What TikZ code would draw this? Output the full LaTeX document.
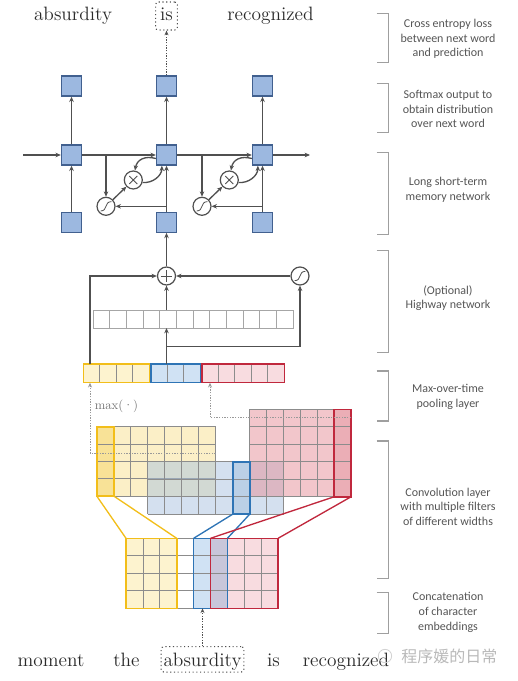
\documentclass[tikz,border=0pt]{standalone}
\usepackage{fontspec}
\newfontfamily\lab{Carlito}
\newfontfamily\cjk{Noto Sans CJK SC}
\usetikzlibrary{arrows.meta,calc}
\definecolor{sqfill}{HTML}{9CB8E0}
\definecolor{sqdraw}{HTML}{41608F}
\definecolor{ln}{HTML}{505050}
\definecolor{wtxt}{HTML}{2A2A2A}
\definecolor{ltxt}{HTML}{555555}
\definecolor{grd}{HTML}{8C8C8C}
\definecolor{ylw}{HTML}{F2BE1A}
\definecolor{ylwf}{HTML}{F7E08F}
\definecolor{ylwl}{HTML}{FDF3CF}
\definecolor{blu}{HTML}{2E74B5}
\definecolor{bluf}{HTML}{A9C2DF}
\definecolor{blul}{HTML}{D0E2F4}
\definecolor{rd}{HTML}{C0283D}
\definecolor{rdf}{HTML}{E68E98}
\definecolor{rdl}{HTML}{F8DCE0}
\definecolor{mixc}{HTML}{C8C6DA}
\begin{document}
\begin{tikzpicture}[x=0.75pt,y=-0.75pt,
  sq/.style={draw=sqdraw, fill=sqfill, line width=1pt, minimum size=15pt, inner sep=0pt},
  op/.style={circle, draw=ln, fill=white, line width=0.9pt, minimum size=13.5pt, inner sep=0pt},
  sigop/.style={op, path picture={\draw[ln, line width=0.6pt, shift={(path picture bounding box.center)}, x=1pt, y=1pt] (-4,-3.5) .. controls (1.5,-3.5) and (-1.5,3.5) .. (4,3.5);}},
  mulop/.style={op, path picture={\draw[ln, line width=0.6pt, shift={(path picture bounding box.center)}, x=1pt, y=1pt] (-3,-3) -- (3,3) (-3,3) -- (3,-3);}},
  addop/.style={op, path picture={\draw[ln, line width=0.6pt, shift={(path picture bounding box.center)}, x=1pt, y=1pt] (-4.2,0) -- (4.2,0) (0,-4.2) -- (0,4.2);}},
  arr/.style={draw=ln, line width=1pt, -{Stealth[length=4pt,width=3.4pt]}},
  dotarr/.style={draw=ln, line width=0.8pt, dash pattern=on 0.9pt off 1.1pt, -{Stealth[length=3.6pt,width=3pt]}},
  maxarr/.style={draw=gray!80, line width=0.7pt, dash pattern=on 1pt off 1pt, -{Stealth[length=3.6pt,width=3pt]}},
  word/.style={font=\fontsize{14.5pt}{17pt}\selectfont, text=wtxt, anchor=base, inner sep=0pt},
  lbl/.style={font=\lab\fontsize{9pt}{11pt}\selectfont, text=ltxt, align=center},
  brk/.style={draw=gray!75, line width=0.8pt},
  gl/.style={draw=grd, line width=0.5pt},
  flt/.style={line width=1pt},
]
\useasboundingbox (0,0) rectangle (517,681);

% ---------- words ----------
\node[word] (wa) at (73,20.7) {absurdity};
\node[word, draw=ln, dotted, line width=0.8pt, rounded corners=2pt, inner xsep=3.4pt, inner ysep=1.5pt, text height=12.5pt, text depth=5.5pt] (wis) at (166.5,20.7) {is};
\node[word] (wr) at (270.5,20.7) {recognized};

\node[word] (bm) at (51,666.7) {moment};
\node[word] (bt) at (126.5,666.7) {the};
\node[word, draw=ln, dotted, line width=0.8pt, rounded corners=2pt, inner xsep=1.8pt, inner ysep=1pt, text height=14pt, text depth=3pt] (ba) at (202.5,666.7) {absurdity};
\node[word] (bi) at (273.5,666.7) {is};
\node[word] (br) at (346,666.7) {recognized};

% watermark
\node[circle, draw=gray!35, line width=0.6pt, minimum size=10pt, inner sep=0pt] (wmi) at (385,656) {};
\node[font=\cjk\fontsize{12pt}{14pt}\selectfont, text=gray!55, anchor=west, inner sep=0pt] (wm) at (401,656) {程序媛的日常};

% ---------- LSTM ----------
\foreach \n/\x in {1/71.5,2/166.5,3/262.5}{
  \node[sq] (t\n) at (\x,86) {};
  \node[sq] (m\n) at (\x,155) {};
  \node[sq] (b\n) at (\x,222.2) {};
}
\coordinate (hin) at (23,155);
\coordinate (hout) at (310,155);
\draw[arr] (hin) -- (m1);
\draw[arr] (m1) -- (m2);
\draw[arr] (m2) -- (m3);
\draw[arr] (m3) -- (hout);
\foreach \n in {1,2,3}{
  \draw[arr] (b\n) -- (m\n);
  \draw[arr] (m\n) -- (t\n);
}
\draw[dotarr] (t2) -- (wis);

% internals
\foreach \n/\dx in {2/0,3/96}{
  \node[sigop] (sg\n) at (106+\dx,206.3) {};
  \node[mulop] (ml\n) at (133.3+\dx,180) {};
  \coordinate (d\n) at (106+\dx,155);
  \coordinate (br\n) at (166.5+\dx,206.3);
  \draw[arr] (d\n) -- (sg\n);
  \draw[arr] (br\n) -- (sg\n);
  \draw[arr] (sg\n) -- (ml\n);
  \draw[arr] ($(m\n.west)+(0,3.5)$) .. controls ($(m\n.west)+(-11,0.5)$) and ($(ml\n.80)+(2,-11)$) .. (ml\n.80);
  \draw[arr] (ml\n.-15) .. controls ($(ml\n.-15)+(10,1)$) and ($(m\n.south west)+(6,10)$) .. ($(m\n.south west)+(6,0)$);
}

% ---------- highway ----------
\node[addop] (pl) at (166.5,276) {};
\node[sigop] (sgH) at (300,276) {};
\foreach \i in {0,...,11}{
  \draw[draw=gray!70, line width=0.5pt] (93+16.667*\i,310) rectangle (93+16.667*\i+16.667,328);
}
\coordinate (hwT) at (166.5,310);
\coordinate (hwB) at (166.5,328);
\draw[arr] (pl) -- (b2);
\draw[arr] (hwT) -- (pl);
\draw[arr] (sgH) -- (pl);

% ---------- concat vector ----------
\foreach \i in {0,...,3}{ \draw[gl, fill=ylwl] (83.3+16.5*\i,364) rectangle (83.3+16.5*\i+16.5,382.7); }
\foreach \i in {0,...,2}{ \draw[gl, fill=blul] (150.8+16.5*\i,364) rectangle (150.8+16.5*\i+16.5,382.7); }
\foreach \i in {0,...,4}{ \draw[gl, fill=rdl] (201.8+16.5*\i,364) rectangle (201.8+16.5*\i+16.5,382.7); }
\draw[ylw, line width=1.1pt] (83.3,364) rectangle (149.3,382.7);
\draw[blu, line width=1.1pt] (150.8,364) rectangle (200.3,382.7);
\draw[rd, line width=1.1pt] (201.8,364) rectangle (284.3,382.7);
\coordinate (cyT) at (90,364);
\coordinate (cyB) at (90,382.7);
\coordinate (cbT) at (166.5,364);
\coordinate (crB) at (210,382.7);
\coordinate (brH) at (166.5,346.7);
\draw[arr] (cyT) |- (pl);
\draw[arr] (cbT) -- (hwB);
\draw[arr] (brH) -| (sgH);

% ---------- feature maps ----------
% yellow
\fill[ylwf, fill opacity=0.5] (96.7,426.7) rectangle (215.7,496);
\fill[ylw, fill opacity=0.28] (96.7,426.7) rectangle (113.7,496);
\foreach \i in {0,...,7}{ \draw[gl] (96.7+17*\i,426.7) -- (96.7+17*\i,496); }
\foreach \j in {0,...,4}{ \draw[gl] (96.7,426.7+17.325*\j) -- (215.7,426.7+17.325*\j); }
% blue
\fill[bluf, fill opacity=0.5] (147.7,461.7) rectangle (283.7,514.2);
\fill[blu, fill opacity=0.15] (232.7,461.7) rectangle (249.7,514.2);
\foreach \i in {0,...,8}{ \draw[gl] (147.7+17*\i,461.7) -- (147.7+17*\i,514.2); }
\foreach \j in {0,...,3}{ \draw[gl] (147.7,461.7+17.5*\j) -- (283.7,461.7+17.5*\j); }
% red
\fill[rdf, fill opacity=0.5] (249,409.3) rectangle (351,496.8);
\fill[rd, fill opacity=0.15] (334,409.3) rectangle (351,496.8);
\foreach \i in {0,...,6}{ \draw[gl] (249+17*\i,409.3) -- (249+17*\i,496.8); }
\foreach \j in {0,...,5}{ \draw[gl] (249,409.3+17.5*\j) -- (351,409.3+17.5*\j); }
% highlighted filters
\draw[ylw, line width=1.2pt] (96.7,426.7) rectangle (113.7,496);
\draw[blu, line width=1.2pt] (232.7,461.7) rectangle (249.7,514.2);
\draw[rd, line width=1.2pt] (334,409.3) rectangle (351,496.8);

% max pooling arrows
\coordinate (ymR) at (215.7,453);
\coordinate (rmR) at (351,417.7);
\draw[maxarr] (ymR) -| (cyB);
\draw[maxarr] (rmR) -| (crB);
\node[font=\fontsize{9.5pt}{11pt}\selectfont, text=gray!90!black, anchor=west, inner sep=0pt] (mx) at (94.5,406) {max(\textperiodcentered)};

% ---------- character embeddings ----------
\foreach \i/\c in {0/ylwl,1/ylwl,2/ylwl,3/white,4/blul,5/mixc,6/rdl,7/rdl,8/rdl}{
  \foreach \j in {0,...,3}{
    \draw[gl, fill=\c] (126+16.9*\i,538.3+17.5*\j) rectangle (126+16.9*\i+16.9,538.3+17.5*\j+17.5);
  }
}
\draw[ylw, line width=1.2pt] (126,538.3) rectangle (176.7,608.3);
\draw[blu, line width=1.2pt] (193.6,538.3) rectangle (227.4,608.3);
\draw[rd, line width=1.2pt] (210.5,538.3) rectangle (278.1,608.3);
\coordinate (eB) at (202.5,608.3);
\draw[dotarr] (ba) -- (eB);

% filter connections
\coordinate (yfa) at (96.7,496);   \coordinate (yfb) at (113.7,496);
\coordinate (bfa) at (232.7,514.2); \coordinate (bfb) at (249.7,514.2);
\coordinate (rfa) at (334,496.8);  \coordinate (rfb) at (351,496.8);
\coordinate (eya) at (126,538.3);  \coordinate (eyb) at (176.7,538.3);
\coordinate (eba) at (193.6,538.3); \coordinate (ebb) at (227.4,538.3);
\coordinate (era) at (210.5,538.3); \coordinate (erb) at (278.1,538.3);
\draw[ylw, flt] (eya) -- (yfa);
\draw[ylw, flt] (eyb) -- (yfb);
\draw[blu, flt] (eba) -- (bfa);
\draw[blu, flt] (ebb) -- (bfb);
\draw[rd, flt] (era) -- (rfa);
\draw[rd, flt] (erb) -- (rfb);

% ---------- brackets and labels ----------
\foreach \k/\ya/\yb in {1/13.3/62.7, 2/83.3/132.7, 3/152.3/234.3, 4/250.7/352.7, 5/371/421, 6/441/578.3, 7/592.7/633.3}{
  \draw[brk] (376.7,\ya) -- (388.5,\ya) -- (388.5,\yb) -- (376.7,\yb);
}
\node[lbl] (l1) at (448,39) {Cross entropy loss\\between next word\\and prediction};
\node[lbl] (l2) at (448,109) {Softmax output to\\obtain distribution\\over next word};
\node[lbl] (l3) at (448,190) {Long short-term\\memory network};
\node[lbl] (l4) at (448,298) {(Optional)\\Highway network};
\node[lbl] (l5) at (448,397) {Max-over-time\\pooling layer};
\node[lbl] (l6) at (448,506.7) {Convolution layer\\with multiple filters\\of different widths};
\node[lbl] (l7) at (448,612.3) {Concatenation\\of character\\embeddings};
\end{tikzpicture}
\end{document}
